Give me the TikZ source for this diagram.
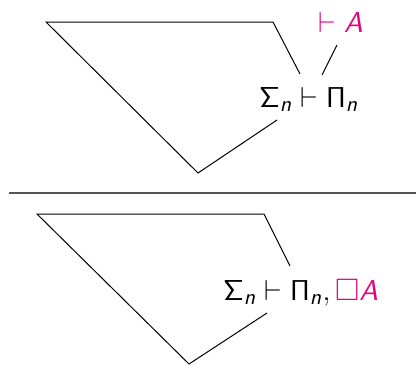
\documentclass[tikz,border=0pt]{standalone}
\usepackage{amsmath,amssymb}
\usepackage{xcolor}
\usepackage{tikz}
\usetikzlibrary{positioning,calc}
\DeclareMathAlphabet{\mathsfsl}{OT1}{cmss}{m}{sl}
\definecolor{goalpink}{HTML}{E6007E}
\definecolor{rulegray}{HTML}{555555}
\tikzset{
  edge/.style={draw=black,line width=.5pt},
  rulebar/.style={draw=rulegray,line width=.75pt},
  seq/.style={inner sep=0pt,anchor=base west,font=\fontsize{15.5}{18}\selectfont},
  goal/.style={seq,text=goalpink},
}

\begin{document}
\begin{tikzpicture}[x=.5pt,y=-.5pt]
  \useasboundingbox (0,0) rectangle (416,365);
  % upper tree
  \node[seq] (seqtop) at (259,107)
    {$\mathsf{\Sigma}_{\mathsfsl{n}}\vdash\mathsf{\Pi}_{\mathsfsl{n}}$};
  \node[goal] (goaltop) at (318,32) {$\vdash\mathsfsl{A}$};
  \coordinate (t1) at (300,74);
  \coordinate (t2) at (273,22);
  \coordinate (t3) at (46,22);
  \coordinate (t4) at (198,173);
  \coordinate (t5) at (277,120);
  \coordinate (g1) at (322,75);
  \coordinate (g2) at (337,45);
  \draw[edge] (t1)--(t2)--(t3)--(t4)--(t5);
  \draw[edge] (g1)--(g2);
  % rule
  \coordinate (r1) at (9,193);
  \coordinate (r2) at (416,193);
  \draw[rulebar] (r1)--(r2);
  % lower tree
  \node[seq] (seqbot) at (223,300)
    {$\mathsf{\Sigma}_{\mathsfsl{n}}\vdash\mathsf{\Pi}_{\mathsfsl{n}},
      \textcolor{goalpink}{\Box\mathsfsl{A}}$};
  \coordinate (b1) at (290,266);
  \coordinate (b2) at (264,214);
  \coordinate (b3) at (37,214);
  \coordinate (b4) at (189,364);
  \coordinate (b5) at (267,313);
  \draw[edge] (b1)--(b2)--(b3)--(b4)--(b5);
\end{tikzpicture}
\end{document}
